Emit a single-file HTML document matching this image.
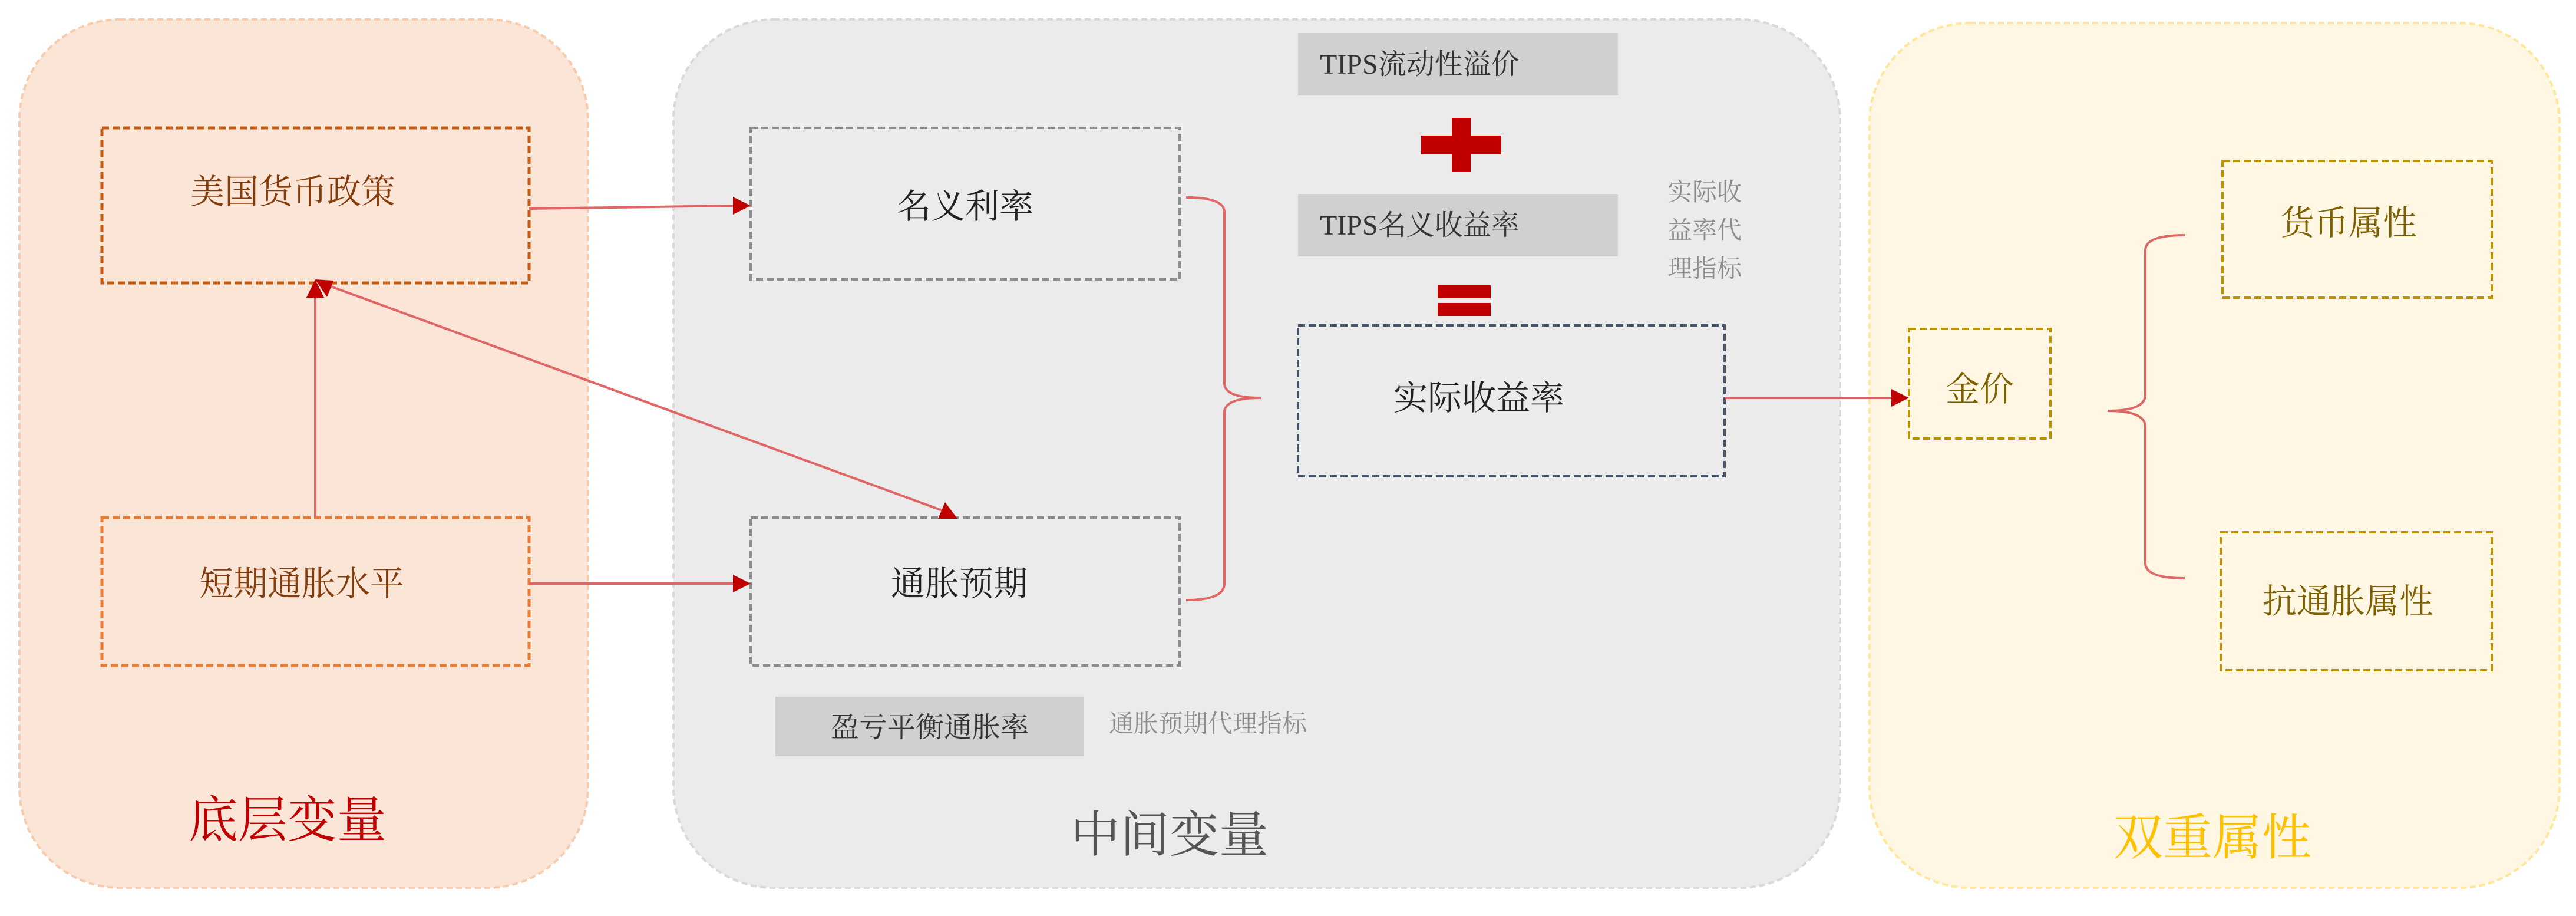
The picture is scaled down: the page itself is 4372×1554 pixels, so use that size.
<!DOCTYPE html>
<html><head><meta charset="utf-8"><style>
html,body{margin:0;padding:0;background:#fff;}
svg{display:block;}
text{font-family:"Liberation Serif","Noto Serif CJK SC","Noto Sans CJK SC",serif;}
</style></head><body>
<svg width="4372" height="1554" viewBox="0 0 4372 1554" xmlns="http://www.w3.org/2000/svg">
<!-- panels -->
<rect x="33" y="33" width="965" height="1473" rx="170" fill="#fbe5d6" stroke="#f8cbad" stroke-width="4" stroke-dasharray="10,6"/>
<rect x="1143" y="33" width="1980" height="1473" rx="170" fill="#ebebeb" stroke="#d9d9d9" stroke-width="4" stroke-dasharray="10,6"/>
<rect x="3173" y="39" width="1171" height="1467" rx="170" fill="#fff7e3" stroke="#ffe699" stroke-width="4" stroke-dasharray="10,6"/>

<!-- left boxes -->
<rect x="173" y="217" width="725" height="263" fill="none" stroke="#c55a11" stroke-width="5" stroke-dasharray="12,6"/>
<text x="497" y="345" font-size="58" fill="#843c0c" text-anchor="middle">美国货币政策</text>
<rect x="173" y="878" width="725" height="251" fill="none" stroke="#ed7d31" stroke-width="5" stroke-dasharray="12,6"/>
<text x="512" y="1010" font-size="58" fill="#843c0c" text-anchor="middle">短期通胀水平</text>
<text x="488" y="1420" font-size="84" fill="#c00000" text-anchor="middle">底层变量</text>

<!-- middle boxes -->
<rect x="1274" y="217" width="728" height="257" fill="none" stroke="#8c8c8c" stroke-width="4" stroke-dasharray="12,6"/>
<text x="1638" y="370" font-size="58" fill="#222" text-anchor="middle">名义利率</text>
<rect x="1274" y="878" width="728" height="251" fill="none" stroke="#8c8c8c" stroke-width="4" stroke-dasharray="12,6"/>
<text x="1628" y="1010" font-size="58" fill="#222" text-anchor="middle">通胀预期</text>
<rect x="1316" y="1182" width="524" height="101" fill="#d0d0d0"/>
<text x="1578" y="1250" font-size="48" fill="#333" text-anchor="middle">盈亏平衡通胀率</text>
<text x="1882" y="1242" font-size="42" fill="#8c8c8c">通胀预期代理指标</text>
<text x="1985" y="1445" font-size="84" fill="#555" text-anchor="middle">中间变量</text>

<rect x="2203" y="56" width="543" height="106" fill="#d0d0d0"/>
<text x="2240" y="125" font-size="48" fill="#333">TIPS流动性溢价</text>
<rect x="2412" y="230" width="136" height="32" fill="#c00000"/>
<rect x="2464" y="200" width="32" height="92" fill="#c00000"/>
<rect x="2203" y="329" width="543" height="106" fill="#d0d0d0"/>
<text x="2240" y="398" font-size="48" fill="#333">TIPS名义收益率</text>
<rect x="2440" y="484" width="90" height="22" fill="#c00000"/>
<rect x="2440" y="514" width="90" height="22" fill="#c00000"/>
<text x="2830" y="340" font-size="42" fill="#8c8c8c">实际收</text>
<text x="2830" y="405" font-size="42" fill="#8c8c8c">益率代</text>
<text x="2830" y="470" font-size="42" fill="#8c8c8c">理指标</text>
<rect x="2203" y="552" width="724" height="256" fill="none" stroke="#44546a" stroke-width="4" stroke-dasharray="12,6"/>
<text x="2510" y="695" font-size="58" fill="#222" text-anchor="middle">实际收益率</text>

<!-- right boxes -->
<rect x="3240" y="558" width="240" height="186" fill="none" stroke="#bf9000" stroke-width="4" stroke-dasharray="12,6"/>
<text x="3360" y="680" font-size="58" fill="#7f6000" text-anchor="middle">金价</text>
<rect x="3772" y="273" width="457" height="232" fill="none" stroke="#bf9000" stroke-width="4" stroke-dasharray="12,6"/>
<text x="3986" y="398" font-size="58" fill="#7f6000" text-anchor="middle">货币属性</text>
<rect x="3769" y="903" width="460" height="234" fill="none" stroke="#bf9000" stroke-width="4" stroke-dasharray="12,6"/>
<text x="3985" y="1040" font-size="58" fill="#7f6000" text-anchor="middle">抗通胀属性</text>
<text x="3755" y="1450" font-size="84" fill="#ffc000" text-anchor="middle">双重属性</text>

<!-- brackets -->
<path d="M2013 335 Q2078 335 2078 360 L2078 650 Q2078 675 2140 675 Q2078 675 2078 700 L2078 990 Q2078 1018 2013 1018" fill="none" stroke="#e06666" stroke-width="4"/>
<path d="M3708 399 Q3641 399 3641 425 L3641 670 Q3641 697 3577 697 Q3641 697 3641 724 L3641 955 Q3641 981 3708 981" fill="none" stroke="#e06666" stroke-width="4"/>

<!-- connectors -->
<g stroke="#e06666" stroke-width="4" fill="none">
<line x1="898" y1="354" x2="1250" y2="349"/>
<line x1="898" y1="990" x2="1250" y2="990"/>
<line x1="535" y1="878" x2="535" y2="500"/>
<line x1="548" y1="481" x2="1610" y2="870"/>
<line x1="2927" y1="675" x2="3215" y2="675"/>
</g>
<g fill="#c00000">
<polygon points="1274,349 1244,334 1244,364"/>
<polygon points="1274,990 1244,975 1244,1005"/>
<polygon points="535,474 520,505 550,505"/>
<polygon points="3240,675 3210,660 3210,690"/>
<polygon points="1625,880 1592,880 1604,852"/>
<polygon points="535,474 566,476 555,504"/>
</g>
</svg>
</body></html>
